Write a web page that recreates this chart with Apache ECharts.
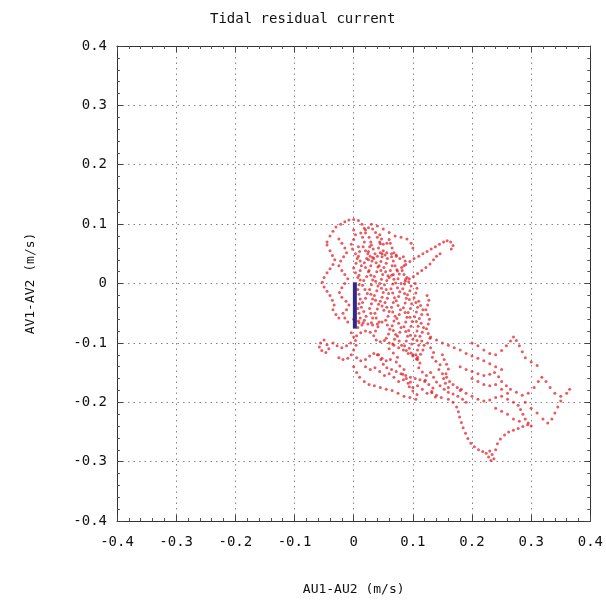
<!DOCTYPE html>
<html>
<head>
<meta charset="utf-8">
<script src="https://cdn.jsdelivr.net/npm/echarts@6/dist/echarts.min.js"></script>
<style>html,body{margin:0;padding:0;background:#fff;}#chart{width:606px;height:604px;}</style>
</head>
<body>
<div id="chart"></div>
<script>
// Axis tick values
var axisTicks = [-0.4, -0.3, -0.2, -0.1, 0, 0.1, 0.2, 0.3, 0.4];

// Residual current scatter tracks [AU1-AU2, AV1-AV2] (m/s)
var trackTopOutline = [[-0.045,0.07],[-0.04,0.08],[-0.035,0.088],[-0.03,0.095],[-0.022,0.1],[-0.015,0.104],[-0.008,0.107],[0,0.108],[0.008,0.106],[0.014,0.1],[0.018,0.093],[0.02,0.085]];
var trackTopRight = [[0.03,0.1],[0.04,0.097],[0.05,0.092],[0.06,0.086],[0.07,0.08],[0.08,0.078],[0.09,0.075],[0.097,0.068],[0.1,0.06]];
var trackCore1 = [[0.012,0.085],[0.015,0.078],[0.018,0.07],[0.016,0.062],[0.02,0.055],[0.024,0.05],[0.022,0.042],[0.018,0.035],[0.02,0.027],[0.025,0.02],[0.022,0.012],[0.017,0.005],[0.015,-0.003],[0.019,-0.01],[0.023,-0.017],[0.02,-0.025],[0.015,-0.032],[0.013,-0.04],[0.017,-0.047],[0.021,-0.055],[0.018,-0.062],[0.014,-0.07]];
var trackCore2 = [[0.03,0.065],[0.033,0.058],[0.036,0.05],[0.034,0.042],[0.038,0.035],[0.041,0.028],[0.039,0.02],[0.035,0.012],[0.037,0.004],[0.041,-0.004],[0.039,-0.012],[0.035,-0.02],[0.037,-0.028],[0.042,-0.035],[0.04,-0.043],[0.036,-0.05],[0.038,-0.058],[0.043,-0.065],[0.041,-0.073],[0.037,-0.08]];
var trackCore3 = [[0.05,0.055],[0.053,0.048],[0.057,0.042],[0.055,0.034],[0.051,0.027],[0.054,0.02],[0.058,0.013],[0.056,0.005],[0.052,-0.002],[0.055,-0.01],[0.059,-0.017],[0.057,-0.025],[0.053,-0.032],[0.056,-0.04],[0.06,-0.047],[0.058,-0.055],[0.054,-0.062],[0.057,-0.07],[0.061,-0.077],[0.059,-0.085],[0.055,-0.092]];
var trackCore4 = [[0.07,0.03],[0.073,0.023],[0.077,0.016],[0.075,0.008],[0.071,0.001],[0.074,-0.007],[0.078,-0.014],[0.076,-0.022],[0.072,-0.029],[0.075,-0.037],[0.079,-0.044],[0.077,-0.052],[0.073,-0.059],[0.076,-0.067],[0.08,-0.074],[0.078,-0.082],[0.074,-0.089],[0.077,-0.097],[0.081,-0.104]];
var trackCore5 = [[0.09,0.01],[0.093,0.003],[0.097,-0.004],[0.095,-0.012],[0.091,-0.019],[0.094,-0.027],[0.098,-0.034],[0.096,-0.042],[0.092,-0.049],[0.095,-0.057],[0.099,-0.064],[0.097,-0.072],[0.093,-0.079],[0.096,-0.087],[0.1,-0.094],[0.098,-0.102],[0.094,-0.109],[0.097,-0.117]];
var trackCore6 = [[0.11,-0.03],[0.113,-0.037],[0.117,-0.044],[0.115,-0.052],[0.111,-0.059],[0.114,-0.067],[0.118,-0.074],[0.116,-0.082],[0.112,-0.089],[0.115,-0.097],[0.119,-0.104],[0.117,-0.112],[0.113,-0.119]];
var trackCore7 = [[0.044,0.082],[0.047,0.075],[0.045,0.067],[0.042,0.06],[0.045,0.052],[0.048,0.045],[0.046,0.037],[0.043,0.03],[0.046,0.022],[0.049,0.015],[0.047,0.007],[0.044,0.0],[0.047,-0.008],[0.05,-0.015],[0.048,-0.023],[0.045,-0.03],[0.048,-0.038],[0.051,-0.045]];
var trackCore8 = [[0.064,0.045],[0.067,0.038],[0.065,0.03],[0.062,0.022],[0.064,0.014],[0.068,0.007],[0.066,-0.001],[0.063,-0.009],[0.066,-0.016],[0.069,-0.024],[0.067,-0.032],[0.064,-0.04],[0.066,-0.048],[0.07,-0.055],[0.068,-0.063],[0.065,-0.071],[0.067,-0.079],[0.071,-0.086],[0.069,-0.094],[0.066,-0.102]];
var trackCore9 = [[0.084,0.045],[0.087,0.038],[0.085,0.03],[0.082,0.022],[0.085,0.015],[0.088,0.007],[0.086,-0.001],[0.083,-0.009],[0.086,-0.017],[0.089,-0.025],[0.087,-0.033],[0.084,-0.041],[0.087,-0.049],[0.09,-0.057],[0.088,-0.065],[0.085,-0.073],[0.088,-0.081],[0.091,-0.089],[0.089,-0.097],[0.086,-0.105],[0.089,-0.113]];
var trackCore10 = [[0.026,0.078],[0.029,0.07],[0.027,0.062],[0.025,0.054],[0.028,0.046],[0.031,0.038],[0.029,0.03],[0.026,0.022],[0.029,0.014],[0.032,0.006],[0.03,-0.002],[0.027,-0.01],[0.029,-0.018],[0.032,-0.026],[0.03,-0.034],[0.027,-0.042],[0.029,-0.05],[0.032,-0.058],[0.03,-0.066]];
var trackCore11 = [[0.104,0.0],[0.107,-0.008],[0.105,-0.016],[0.102,-0.024],[0.105,-0.032],[0.108,-0.04],[0.106,-0.048],[0.103,-0.056],[0.106,-0.064],[0.109,-0.072],[0.107,-0.08],[0.104,-0.088],[0.107,-0.096],[0.11,-0.104],[0.108,-0.112],[0.105,-0.12],[0.108,-0.128]];
var trackCore12 = [[0.124,-0.02],[0.127,-0.028],[0.125,-0.036],[0.122,-0.044],[0.125,-0.052],[0.128,-0.06],[0.126,-0.068],[0.123,-0.076],[0.126,-0.084],[0.129,-0.092]];
var trackCore13 = [[0.008,0.062],[0.01,0.054],[0.008,0.046],[0.011,0.038],[0.013,0.03],[0.011,0.022],[0.009,0.014],[0.011,0.006],[0.009,-0.002],[0.007,-0.01],[0.009,-0.018],[0.011,-0.026],[0.009,-0.034],[0.007,-0.042],[0.009,-0.05],[0.011,-0.058],[0.009,-0.066],[0.007,-0.074]];
var trackCross1 = [[0.0,-0.06],[0.008,-0.063],[0.016,-0.066],[0.024,-0.068],[0.032,-0.07],[0.04,-0.068],[0.048,-0.065]];
var trackCross2 = [[0.06,-0.1],[0.068,-0.104],[0.076,-0.108],[0.084,-0.112],[0.092,-0.118],[0.1,-0.122],[0.108,-0.124]];
var trackCross3 = [[0.025,0.04],[0.032,0.044],[0.04,0.046],[0.048,0.05],[0.056,0.052],[0.064,0.05],[0.072,0.048]];
var trackCoreLoop = [[0.02,0.09],[0.025,0.094],[0.032,0.092],[0.037,0.086],[0.04,0.078],[0.044,0.07],[0.05,0.066],[0.056,0.068],[0.06,0.074],[0.062,0.068],[0.065,0.06],[0.068,0.052],[0.072,0.046],[0.078,0.042]];
var trackArm1 = [[0.06,0.01],[0.067,0.015],[0.074,0.021],[0.081,0.027],[0.088,0.032],[0.095,0.037],[0.102,0.042],[0.11,0.046],[0.117,0.05],[0.124,0.054],[0.131,0.058],[0.138,0.062],[0.145,0.066],[0.152,0.07],[0.158,0.072],[0.164,0.07],[0.168,0.064],[0.165,0.058]];
var trackArm2 = [[0.08,0.0],[0.087,0.004],[0.094,0.008],[0.101,0.012],[0.108,0.017],[0.115,0.022],[0.122,0.027],[0.129,0.033],[0.135,0.04],[0.14,0.046],[0.146,0.05]];
var trackLeft1 = [[-0.045,0.065],[-0.04,0.055],[-0.036,0.047],[-0.032,0.04],[-0.035,0.032],[-0.04,0.025],[-0.045,0.018],[-0.05,0.01],[-0.053,0.002],[-0.05,-0.006],[-0.045,-0.013],[-0.04,-0.02],[-0.036,-0.028],[-0.033,-0.036],[-0.035,-0.044],[-0.03,-0.052],[-0.025,-0.058]];
var trackLeft2 = [[-0.025,0.075],[-0.02,0.068],[-0.015,0.06],[-0.012,0.052],[-0.017,0.045],[-0.022,0.038],[-0.025,0.03],[-0.02,0.022],[-0.015,0.015],[-0.01,0.008],[-0.015,0.0],[-0.02,-0.007],[-0.024,-0.015],[-0.02,-0.023],[-0.013,-0.03],[-0.008,-0.036],[-0.012,-0.044],[-0.018,-0.05],[-0.015,-0.058],[-0.01,-0.065]];
var trackLeft3 = [[0.0,0.09],[0.003,0.082],[0.0,0.074],[-0.004,0.066],[-0.002,0.058],[0.003,0.05],[0.006,0.042],[0.004,0.034],[0.0,0.026],[0.003,0.018],[0.007,0.01]];
var trackLowLeft1 = [[-0.05,-0.095],[-0.056,-0.1],[-0.058,-0.107],[-0.054,-0.113],[-0.047,-0.116],[-0.042,-0.11],[-0.045,-0.103]];
var trackLowLeft2 = [[-0.025,-0.125],[-0.018,-0.128],[-0.01,-0.126],[-0.004,-0.12],[0.0,-0.112],[0.004,-0.104],[0.003,-0.096],[0.0,-0.09],[-0.004,-0.083]];
var trackLowLeft3 = [[0.005,-0.088],[0.012,-0.083],[0.02,-0.08],[0.028,-0.082],[0.034,-0.088],[0.038,-0.095],[0.045,-0.098],[0.052,-0.096]];
var trackLowLeft4 = [[-0.005,-0.1],[-0.012,-0.105],[-0.02,-0.108],[-0.028,-0.105],[-0.035,-0.1]];
var trackLowLeft5 = [[0.005,-0.125],[0.012,-0.13],[0.02,-0.128],[0.027,-0.122],[0.034,-0.118],[0.042,-0.12],[0.048,-0.126],[0.055,-0.13],[0.062,-0.128]];
var trackBand1 = [[0.02,-0.14],[0.028,-0.145],[0.036,-0.142],[0.044,-0.148],[0.052,-0.155],[0.06,-0.152],[0.068,-0.158],[0.076,-0.165],[0.084,-0.162],[0.092,-0.168],[0.1,-0.175],[0.108,-0.172],[0.116,-0.178],[0.124,-0.185],[0.132,-0.182],[0.14,-0.188],[0.148,-0.192]];
var trackBand2 = [[0.06,-0.11],[0.067,-0.117],[0.074,-0.124],[0.072,-0.132],[0.078,-0.139],[0.085,-0.145],[0.083,-0.153],[0.089,-0.16],[0.096,-0.166],[0.094,-0.174],[0.1,-0.181],[0.107,-0.187],[0.105,-0.195]];
var trackBand3 = [[0.1,-0.12],[0.106,-0.127],[0.112,-0.134],[0.11,-0.142],[0.116,-0.149],[0.123,-0.155],[0.121,-0.163],[0.127,-0.17],[0.134,-0.176],[0.132,-0.184],[0.138,-0.191]];
var trackBand4 = [[0.125,-0.1],[0.13,-0.108],[0.135,-0.116],[0.133,-0.124],[0.139,-0.131],[0.146,-0.137],[0.144,-0.145],[0.15,-0.152],[0.157,-0.158],[0.162,-0.165],[0.168,-0.17],[0.175,-0.175],[0.182,-0.178]];
var trackBand5 = [[0.0,-0.14],[0.005,-0.15],[0.01,-0.158],[0.018,-0.165],[0.026,-0.17],[0.035,-0.172],[0.045,-0.175],[0.055,-0.178],[0.065,-0.18],[0.075,-0.185],[0.085,-0.19],[0.095,-0.192]];
var trackBand6 = [[0.15,-0.12],[0.153,-0.128],[0.157,-0.136],[0.16,-0.144],[0.156,-0.152],[0.152,-0.16],[0.155,-0.168],[0.16,-0.175]];
var trackBand7 = [[0.04,-0.12],[0.046,-0.128],[0.05,-0.136],[0.056,-0.142],[0.064,-0.145],[0.072,-0.148],[0.08,-0.152],[0.088,-0.155],[0.096,-0.158],[0.104,-0.16],[0.112,-0.162],[0.12,-0.165]];
var trackBand8 = [[0.13,-0.15],[0.135,-0.158],[0.14,-0.166],[0.146,-0.172],[0.153,-0.178],[0.16,-0.183],[0.168,-0.186],[0.176,-0.19],[0.184,-0.195],[0.19,-0.2]];
var trackEast1 = [[0.13,-0.09],[0.14,-0.095],[0.15,-0.1],[0.16,-0.104],[0.17,-0.108],[0.18,-0.112],[0.19,-0.118],[0.2,-0.122],[0.21,-0.126],[0.22,-0.13],[0.23,-0.135],[0.24,-0.14],[0.25,-0.145]];
var trackEast2 = [[0.2,-0.1],[0.21,-0.105],[0.22,-0.112],[0.23,-0.118],[0.24,-0.12],[0.25,-0.113],[0.258,-0.105],[0.265,-0.097],[0.27,-0.09],[0.275,-0.096],[0.28,-0.105],[0.285,-0.115],[0.29,-0.125],[0.3,-0.132],[0.31,-0.138]];
var trackEast3 = [[0.18,-0.14],[0.19,-0.145],[0.2,-0.148],[0.21,-0.152],[0.22,-0.155],[0.23,-0.153],[0.238,-0.15],[0.245,-0.157],[0.25,-0.165],[0.258,-0.172],[0.265,-0.178],[0.275,-0.183],[0.285,-0.188],[0.295,-0.185],[0.305,-0.175],[0.312,-0.165],[0.318,-0.158],[0.325,-0.165],[0.332,-0.175],[0.34,-0.185],[0.35,-0.19],[0.36,-0.185],[0.365,-0.178]];
var trackEast4 = [[0.29,-0.2],[0.3,-0.21],[0.31,-0.218],[0.32,-0.228],[0.328,-0.235],[0.335,-0.228],[0.34,-0.218],[0.345,-0.208],[0.35,-0.198]];
var trackEast5 = [[0.278,-0.205],[0.282,-0.212],[0.286,-0.22],[0.29,-0.228],[0.295,-0.235],[0.3,-0.24]];
var trackEast6 = [[0.18,-0.18],[0.19,-0.185],[0.2,-0.19],[0.21,-0.195],[0.22,-0.198],[0.23,-0.196],[0.24,-0.192],[0.25,-0.19],[0.26,-0.195],[0.27,-0.2]];
var trackEast7 = [[0.2,-0.16],[0.21,-0.165],[0.22,-0.17],[0.23,-0.172],[0.24,-0.17],[0.25,-0.178],[0.26,-0.185]];
var trackEast8 = [[0.24,-0.21],[0.25,-0.215],[0.26,-0.22],[0.27,-0.228],[0.28,-0.232]];
var trackSouth1 = [[0.16,-0.195],[0.168,-0.2],[0.174,-0.208],[0.177,-0.216],[0.179,-0.225],[0.182,-0.234],[0.185,-0.243],[0.189,-0.252],[0.193,-0.261],[0.198,-0.269],[0.204,-0.275],[0.211,-0.28],[0.218,-0.283],[0.224,-0.286],[0.228,-0.292],[0.232,-0.298],[0.237,-0.295],[0.234,-0.288],[0.23,-0.282]];
var trackSouth2 = [[0.24,-0.28],[0.243,-0.27],[0.248,-0.262],[0.255,-0.255],[0.262,-0.25],[0.27,-0.247],[0.278,-0.244],[0.286,-0.241],[0.294,-0.238]];

// Mean residual (blue segment)
var meanX = [0.002, 0.002];
var meanY = [0.002, -0.076];

var allTracks = [trackTopOutline, trackTopRight, trackCore1, trackCore2, trackCore3, trackCore4, trackCore5, trackCore6,
  trackCore7, trackCore8, trackCore9, trackCore10, trackCore11, trackCore12, trackCore13, trackCross1, trackCross2, trackCross3, trackCoreLoop,
  trackArm1, trackArm2, trackLeft1, trackLeft2, trackLeft3, trackLowLeft1, trackLowLeft2, trackLowLeft3, trackLowLeft4, trackLowLeft5,
  trackBand1, trackBand2, trackBand3, trackBand4, trackBand5, trackBand6, trackBand7, trackBand8,
  trackEast1, trackEast2, trackEast3, trackEast4, trackEast5, trackEast6, trackEast7, trackEast8, trackSouth1, trackSouth2];
var scatterData = [];
allTracks.forEach(function (t) { t.forEach(function (p) { scatterData.push(p); }); });
var meanData = meanX.map(function (x, i) { return [x, meanY[i]]; });

var FONT = 'DejaVu Sans Mono';
var fmt = function (v) { var r = Math.round(v * 10) / 10; return r === 0 ? '0' : r.toFixed(1); };
function axisBase(extra) {
  var a = {
    type: 'value', min: axisTicks[0], max: axisTicks[axisTicks.length - 1], interval: 0.1,
    axisLine: { show: true, onZero: false, lineStyle: { color: '#333', width: 1 } },
    axisTick: { show: true, inside: true, length: 6, lineStyle: { color: '#444' } },
    minorTick: { show: true, splitNumber: 5, length: 3, lineStyle: { color: '#555' } },
    splitLine: { show: false },
    axisLabel: { show: false }
  };
  for (var k in extra) a[k] = extra[k];
  return a;
}

var chart = echarts.init(document.getElementById('chart'));
chart.setOption({
  backgroundColor: '#fff',
  animation: false,
  title: { text: 'Tidal residual current', left: 205, top: 7,
    textStyle: { fontFamily: FONT, fontSize: 14, fontWeight: 'normal', color: '#111' } },
  grid: { left: 117, right: 11, top: 46, bottom: 83 },
  xAxis: [
    axisBase({ position: 'bottom', name: 'AU1-AU2 (m/s)', nameLocation: 'middle', nameGap: 62,
      nameTextStyle: { fontFamily: FONT, fontSize: 13, color: '#111' },
      axisLabel: { show: true, formatter: fmt, margin: 14, fontFamily: FONT, fontSize: 14, color: '#111' },
      splitLine: { show: true, lineStyle: { color: '#888', type: [1.5, 4], width: 1 } } }),
    axisBase({ position: 'top' })
  ],
  yAxis: [
    axisBase({ position: 'left', name: 'AV1-AV2 (m/s)', nameLocation: 'middle', nameGap: 80, nameRotate: 90,
      nameTextStyle: { fontFamily: FONT, fontSize: 13, color: '#111' },
      axisLabel: { show: true, formatter: fmt, margin: 10, fontFamily: FONT, fontSize: 14, color: '#111' },
      splitLine: { show: true, lineStyle: { color: '#888', type: [1.5, 4], width: 1 } } }),
    axisBase({ position: 'right' })
  ],
  series: [
    { type: 'scatter', xAxisIndex: 0, yAxisIndex: 0, data: scatterData, symbol: 'circle', symbolSize: 3,
      itemStyle: { color: 'rgba(222,22,32,0.88)' } },
    { type: 'line', xAxisIndex: 0, yAxisIndex: 0, data: meanData, symbol: 'none',
      lineStyle: { color: '#2e2a86', width: 4, cap: 'butt' } }
  ]
});
</script>
</body>
</html>
